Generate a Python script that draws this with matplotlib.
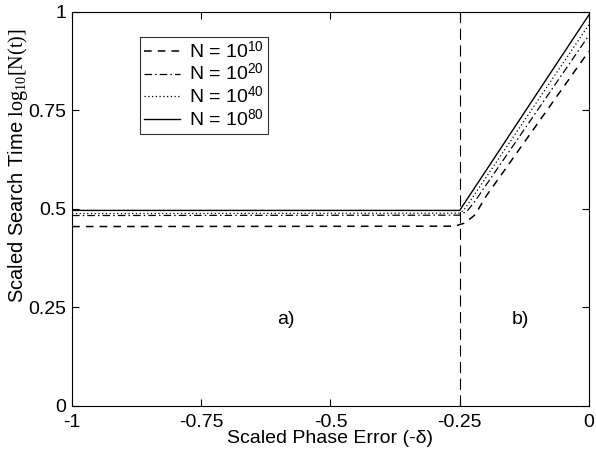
import matplotlib
matplotlib.use("Agg")
import matplotlib.pyplot as plt

plt.rcParams["font.family"] = ["Liberation Sans", "DejaVu Sans"]
plt.rcParams["mathtext.fontset"] = "custom"
plt.rcParams["mathtext.rm"] = "Liberation Serif"
plt.rcParams["mathtext.sf"] = "Liberation Sans"
plt.rcParams["mathtext.it"] = "Liberation Serif:italic"

# curvas (x = -delta escalado, y = log10 T escalado)
x_n10 = [-1, -0.26, -0.24, -0.22, -0.2, 0]
y_n10 = [0.455, 0.456, 0.464, 0.485, 0.53, 0.90]
x_n20 = [-1, -0.25, -0.235, -0.22, 0]
y_n20 = [0.483, 0.484, 0.495, 0.52, 0.94]
x_n40 = [-1, -0.25, -0.24, 0]
y_n40 = [0.488, 0.489, 0.50, 0.967]
x_n80 = [-1, -0.25, 0]
y_n80 = [0.496, 0.496, 0.992]

xticks = [-1, -0.75, -0.5, -0.25, 0]
xtick_labels = ["-1", "-0.75", "-0.5", "-0.25", "0"]
yticks = [0, 0.25, 0.5, 0.75, 1]
ytick_labels = ["0", "0.25", "0.5", "0.75", "1"]

fig = plt.figure(figsize=(5.96, 4.54), dpi=100)
ax = fig.add_axes([0.121, 0.106, 0.867, 0.868])

ax.plot(x_n10, y_n10, "k", ls=(0, (5, 4)), lw=1.1, label=r"N = 10$^{\mathsf{10}}$")
ax.plot(x_n20, y_n20, "k", ls=(0, (6, 2.5, 1.2, 2.5)), lw=0.9, label=r"N = 10$^{\mathsf{20}}$")
ax.plot(x_n40, y_n40, "k", ls=(0, (1, 2)), lw=0.9, label=r"N = 10$^{\mathsf{40}}$")
ax.plot(x_n80, y_n80, "k", ls="-", lw=1.0, label=r"N = 10$^{\mathsf{80}}$")

ax.axvline(-0.25, color="k", ls=(0, (10, 5)), lw=0.8)

ax.text(-0.586, 0.218, "a)", fontsize=14, ha="center", va="center")
ax.text(-0.133, 0.218, "b)", fontsize=14, ha="center", va="center")

ax.set_xlim(-1, 0)
ax.set_ylim(0, 1)
ax.set_xticks(xticks)
ax.set_xticklabels(xtick_labels)
ax.set_yticks(yticks)
ax.set_yticklabels(ytick_labels)
ax.tick_params(direction="in", top=True, right=True, labelsize=14, length=5)
ax.tick_params(axis="x", pad=6)
ax.tick_params(axis="y", pad=4)

ax.set_xlabel("Scaled Phase Error (-δ)", fontsize=14, labelpad=-1)
ax.set_ylabel(r"Scaled Search Time $\mathrm{log}_{10}[\mathrm{N(t)}]$", fontsize=14.5)
ax.yaxis.set_label_coords(-0.081, 0.61)

leg = ax.legend(loc="upper left", bbox_to_anchor=(0.131, 0.937), fontsize=14,
                frameon=True, fancybox=False, edgecolor="k", handlelength=1.85,
                handletextpad=0.5, borderpad=0.2, labelspacing=0.08, borderaxespad=0)
leg.get_frame().set_linewidth(0.8)

fig.savefig("out.png", dpi=100)
